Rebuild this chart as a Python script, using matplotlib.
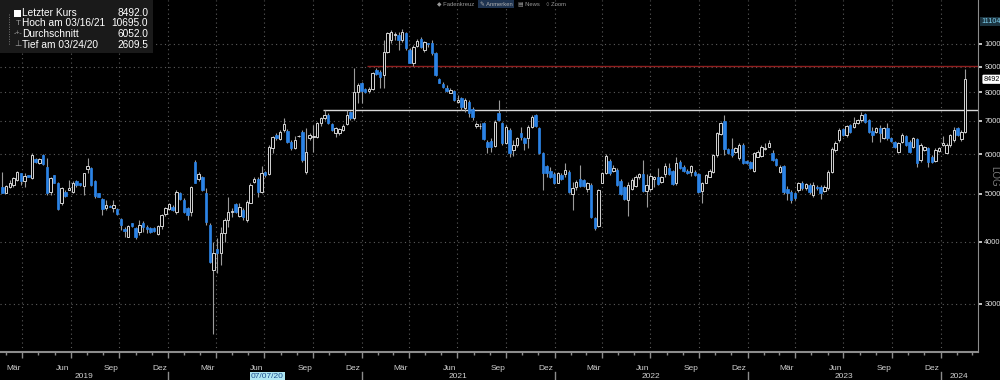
import numpy as np
import pandas as pd
import matplotlib
matplotlib.use("Agg")
import matplotlib.pyplot as plt
import matplotlib.dates as mdates
from matplotlib.patches import Rectangle
from matplotlib.transforms import blended_transform_factory

plt.rcParams["font.family"] = ["Liberation Sans", "DejaVu Sans"]

# weekly OHLC (log scale)
opens = [5164, 5007, 5164, 5204, 5326, 5494, 5310, 5452, 5368, 5861, 5753, 5980, 5648, 5046, 5452, 5260, 4781, 5046, 5085, 5046,
         5310, 5245, 5180, 5597, 5640, 5310, 5007, 4870, 4671, 4715, 4671, 4650, 4446, 4238, 4097, 4358, 4258, 4192, 4371, 4291,
         4258, 4271, 4147, 4304, 4551, 4650, 4707, 4600, 5022, 4855, 4671, 4600, 5798, 5343, 5394, 5008, 4324, 3511, 3865, 3793,
         4161, 4426, 4586, 4759, 4509, 4636, 4426, 4785, 5280, 5343, 5045, 5538, 5477, 6168, 6560, 6432, 6715, 6693, 6360, 6168,
         6520, 6660, 5537, 6462, 6510, 6495, 6925, 7112, 7197, 6903, 6610, 6610, 6715, 6903, 7307, 7088, 8015, 8357, 8105, 8040,
         8105, 8862, 8793, 8661, 9650, 10185, 10422, 10422, 10185, 10504, 9724, 9140, 9900, 10220, 9724, 10040, 10040, 9600, 8490, 8310,
         8143, 7980, 8030, 7655, 7775, 7420, 7655, 7390, 6839, 6830, 6946, 6360, 6390, 6230, 7250, 6946, 6314, 6715, 6120, 6264,
         6614, 6462, 6462, 6800, 7197, 6768, 6027, 5675, 5562, 5477, 5257, 5452, 5477, 5538, 4993, 5160, 5343, 5326, 5100, 5204,
         4460, 4304, 5257, 5510, 5825, 5545, 5580, 5308, 5148, 4855, 5102, 5180, 5394, 5477, 5068, 5102, 5343, 5394, 5280, 5477,
         5625, 5562, 5245, 5797, 5665, 5562, 5538, 5538, 5477, 5068, 5257, 5410, 5538, 5980, 6600, 7010, 6140, 6140, 6073, 5885,
         6264, 5815, 5797, 5562, 5934, 5955, 6150, 6216, 6045, 5860, 5538, 5682, 5120, 5045, 5007, 5085, 5257, 5125, 5204, 4968,
         5164, 5164, 5068, 5125, 5538, 6120, 6411, 6737, 6560, 6871, 6817, 6946, 7032, 7230, 7032, 6693, 6660, 6768, 6462, 6768,
         6462, 6360, 6073, 6360, 6530, 6360, 6196, 6430, 5843, 6120, 6168, 5934, 5825, 6100, 6264, 6045, 6264, 6411, 6768, 6432,
         6660]
highs = [5537, 5204, 5326, 5410, 5563, 5494, 5494, 5452, 6045, 5888, 5888, 6008, 5888, 5410, 5452, 5285, 5148, 5085, 5326, 5310,
         5326, 5260, 5510, 5888, 5665, 5326, 5022, 4892, 4855, 4743, 4855, 4671, 4460, 4278, 4324, 4371, 4278, 4426, 4412, 4318,
         4278, 4291, 4318, 4551, 4707, 4781, 4743, 5085, 5046, 4892, 4707, 5180, 5843, 5528, 5426, 5132, 4365, 4003, 4072, 4290,
         4467, 4930, 4678, 4780, 4780, 4678, 4855, 5245, 5410, 5394, 5682, 5562, 6264, 6530, 6614, 6715, 7088, 6737, 6411, 6540,
         6560, 6715, 6768, 6622, 6871, 6968, 7144, 7364, 7263, 6935, 6817, 6768, 6903, 7364, 7340, 8930, 8333, 8397, 8154, 8204,
         8793, 8930, 8862, 10185, 10586, 10667, 10586, 10586, 10695, 10586, 9800, 9951, 10220, 10325, 10150, 10060, 10185, 9635, 8530, 8397,
         8269, 8154, 8079, 7895, 7835, 7775, 7714, 7460, 6978, 6925, 6968, 6411, 6460, 7032, 7714, 6978, 6871, 6768, 6411, 6510,
         6800, 6510, 6871, 7197, 7220, 6807, 6073, 5709, 5665, 5538, 5538, 5495, 5753, 5580, 5285, 5326, 5709, 5343, 5285, 5245,
         4494, 5102, 5538, 6008, 5860, 5709, 5625, 5343, 5180, 5285, 5375, 5452, 5510, 5843, 5477, 5495, 5426, 5625, 5426, 5753,
         5770, 5580, 5934, 5843, 5709, 5605, 5709, 5580, 5495, 5285, 5477, 5597, 6008, 6660, 6978, 7197, 6168, 6460, 6216, 6314,
         6314, 5843, 5825, 6060, 6120, 6264, 6314, 6411, 6120, 5885, 5709, 5709, 5180, 5085, 5045, 5285, 5302, 5257, 5245, 5285,
         5204, 5204, 5204, 5580, 6205, 6390, 6768, 6775, 6871, 6893, 7140, 7065, 7307, 7263, 7065, 6817, 6800, 6871, 6817, 6946,
         6495, 6390, 6360, 6614, 6560, 6411, 6495, 6460, 6314, 6240, 6195, 5980, 6168, 6216, 6530, 6314, 6590, 6817, 6800, 6715,
         8890]
lows = [5007, 5007, 5125, 5164, 5310, 5204, 5164, 5393, 5343, 5771, 5735, 5709, 4968, 4968, 5245, 4636, 4743, 4930, 5085, 5007,
        5164, 5180, 4968, 5494, 5180, 4892, 4915, 4529, 4636, 4693, 4600, 4529, 4225, 4097, 4085, 4278, 4047, 4128, 4192, 4160,
        4173, 4192, 4134, 4238, 4509, 4636, 4622, 4551, 4855, 4579, 4426, 4509, 5245, 5302, 5062, 4324, 3630, 2609.5, 3463, 3594,
        4003, 4290, 4494, 4565, 4494, 4426, 4392, 4780, 5245, 4930, 5007, 5410, 5452, 6027, 6411, 6411, 6660, 6314, 6120, 6140,
        6495, 5797, 5477, 6411, 6073, 6470, 6839, 7032, 6903, 6682, 6510, 6560, 6682, 6871, 7032, 7032, 7597, 7597, 7968, 7980,
        8079, 8661, 8143, 8143, 9600, 10030, 10185, 9724, 10090, 9724, 9140, 9030, 9875, 9815, 9635, 9875, 9501, 8620, 8333, 8143,
        8015, 7970, 7680, 7597, 7364, 7307, 7144, 7032, 6768, 6737, 6411, 6027, 6073, 6216, 7010, 6264, 6290, 5934, 5955, 6216,
        6411, 6120, 6168, 6768, 6817, 6000, 5085, 5410, 5368, 5228, 5245, 5326, 5410, 5007, 4636, 5085, 5148, 5148, 5045, 4460,
        4225, 4290, 5245, 5477, 5452, 5528, 5180, 4968, 4855, 4510, 5085, 5164, 5360, 5045, 4700, 5068, 5164, 5204, 5250, 5410,
        5452, 5204, 5204, 5605, 5538, 5477, 5426, 5426, 5007, 4795, 5245, 5394, 5510, 5934, 6560, 5980, 6000, 5934, 6027, 5843,
        5735, 5735, 5605, 5538, 5920, 5925, 6120, 6195, 5815, 5682, 5495, 4990, 4855, 4780, 4855, 5045, 5085, 5085, 4990, 4930,
        5085, 4870, 5030, 5085, 5500, 6073, 6360, 6530, 6510, 6622, 6768, 6903, 6978, 6946, 6630, 6360, 6622, 6360, 6430, 6411,
        6360, 6168, 6045, 6330, 6240, 6045, 6168, 5665, 5797, 6090, 5665, 5760, 5790, 6073, 6240, 6027, 6216, 6360, 6530, 6390,
        6630]
closes = [5020, 5180, 5260, 5368, 5537, 5310, 5427, 5410, 5980, 5798, 5861, 5735, 5007, 5368, 5260, 4650, 5125, 4945, 5125, 5245,
          5204, 5204, 5494, 5683, 5204, 4945, 4930, 4650, 4743, 4707, 4743, 4550, 4324, 4212, 4304, 4304, 4097, 4324, 4278, 4238,
          4192, 4212, 4304, 4529, 4671, 4766, 4636, 5046, 4870, 4600, 4529, 5164, 5260, 5477, 5085, 4391, 3648, 3793, 3793, 4161,
          4426, 4600, 4622, 4600, 4700, 4480, 4817, 5204, 5343, 5045, 5495, 5452, 6216, 6492, 6462, 6660, 6903, 6360, 6186, 6411,
          6540, 5843, 6073, 6560, 6540, 6925, 7112, 7197, 6925, 6715, 6768, 6737, 6839, 7197, 7088, 8015, 8269, 8052, 8015, 8105,
          8755, 8721, 8595, 9650, 10504, 10586, 10460, 10185, 10586, 9800, 9168, 9875, 10150, 9850, 10100, 9990, 9600, 8661, 8357, 8180,
          8050, 8079, 7714, 7714, 7460, 7714, 7250, 7120, 6903, 6850, 6432, 6196, 6196, 6978, 7032, 6335, 6817, 6045, 6264, 6462,
          6490, 6330, 6817, 7144, 6839, 6027, 5510, 5495, 5410, 5257, 5495, 5343, 5580, 5045, 5132, 5285, 5180, 5180, 5245, 4484,
          4258, 5085, 5510, 5955, 5510, 5625, 5204, 4993, 4870, 5204, 5326, 5394, 5477, 5068, 5204, 5426, 5394, 5228, 5394, 5682,
          5477, 5228, 5753, 5625, 5562, 5510, 5682, 5452, 5045, 5257, 5452, 5562, 5980, 6630, 6946, 6140, 6027, 5980, 6168, 6264,
          5753, 5753, 5625, 6027, 6073, 6216, 6168, 6314, 5843, 5709, 5665, 5045, 5007, 4855, 4890, 5245, 5125, 5228, 5045, 5204,
          5125, 5007, 5164, 5538, 6140, 6314, 6715, 6560, 6839, 6660, 6946, 7032, 7197, 6978, 6660, 6560, 6768, 6630, 6768, 6462,
          6390, 6196, 6314, 6560, 6264, 6073, 6462, 5753, 6264, 6195, 5797, 5797, 6120, 6168, 6314, 6264, 6560, 6715, 6560, 6660,
          8492]

dates = pd.date_range("2019-02-22", periods=len(closes), freq="7D")

y_ticks = [3000, 4000, 5000, 6000, 7000, 8000, 9000, 10000]
month_names = {3: "Mär", 6: "Jun", 9: "Sep", 12: "Dez"}
years = [2019, 2020, 2021, 2022, 2023, 2024]

last_price = 8492.0
high_price = 10695.0
avg_price = 6052.0
low_price = 2609.5
top_value = 11104
red_level = 9030
white_level = 7350

# ---- figure
fig = plt.figure(figsize=(10, 3.8), dpi=100, facecolor="black")
ax = fig.add_axes([0, 28 / 380, 0.978, 352 / 380])
ax.set_facecolor("black")

o = np.array(opens, float)
h = np.array(highs, float)
l = np.array(lows, float)
c = np.array(closes, float)
x = mdates.date2num(dates)
up = c >= o

blue = "#2b83e6"
ax.vlines(x, np.minimum(l, np.minimum(o, c)), np.maximum(h, np.maximum(o, c)),
          color="#9c9c9c", lw=0.8, zorder=3)
body_lo = np.minimum(o, c)
body_hi = np.maximum(o, c)
ax.bar(x[up], body_hi[up] - body_lo[up], bottom=body_lo[up], width=4.6,
       facecolor="black", edgecolor="#d4d4d4", linewidth=0.7, zorder=4)
ax.bar(x[~up], body_hi[~up] - body_lo[~up], bottom=body_lo[~up], width=4.6,
       facecolor=blue, edgecolor=blue, linewidth=0.5, zorder=4)

ax.set_yscale("log")
ax.set_ylim(2402, 12258)
ax.set_xlim(mdates.date2num(pd.Timestamp("2019-02-17 12:00")),
            mdates.date2num(pd.Timestamp("2024-03-11 12:00")))

# reference lines
ax.hlines(red_level, mdates.date2num(pd.Timestamp("2021-01-12")), ax.get_xlim()[1],
          color="#8e1f1f", lw=1.0, zorder=2)
ax.hlines(white_level, mdates.date2num(pd.Timestamp("2020-10-21")), ax.get_xlim()[1],
          color="#d8d8d8", lw=1.0, zorder=2)

# grid
for v in y_ticks:
    ax.axhline(v, color="#5c5c5c", lw=0.8, ls=(0, (1, 3)), zorder=1)
quarters = pd.date_range("2019-04-01", "2024-01-01", freq="QS")
for q in quarters:
    ax.axvline(mdates.date2num(q), color="#5c5c5c", lw=0.8, ls=(0, (1, 3)), zorder=1)

# spines / axes
for s in ["top", "left"]:
    ax.spines[s].set_visible(False)
ax.spines["right"].set_color("#8c8c8c")
ax.spines["bottom"].set_color("#8c8c8c")
ax.spines["bottom"].set_linewidth(1.5)
ax.yaxis.tick_right()
ax.yaxis.set_minor_locator(plt.NullLocator())
ax.set_yticks(y_ticks)
ax.set_yticklabels([str(v) for v in y_ticks])
ax.tick_params(axis="y", colors="#e6e6e6", labelsize=5.3, length=3, width=1.2, pad=1.5)

months = pd.date_range("2019-03-01", "2024-03-01", freq="MS")
ax.set_xticks(mdates.date2num(quarters))
ax.set_xticks(mdates.date2num(months), minor=True)
ax.set_xticklabels([])
ax.tick_params(axis="x", which="major", colors="#8c8c8c", length=4, width=1)
ax.tick_params(axis="x", which="minor", colors="#8c8c8c", length=2, width=1)

# month / year labels
tr = blended_transform_factory(ax.transData, fig.transFigure)
for m in months:
    if m.month in month_names and m < pd.Timestamp("2024-01-01"):
        ax.text(mdates.date2num(m + pd.Timedelta(days=15)), 1 - 369 / 380, month_names[m.month],
                transform=tr, color="#d0d0d0", fontsize=6, ha="center", va="center")
for yr in years:
    if yr == 2020:
        continue
    start = max(pd.Timestamp(f"{yr}-01-01"), pd.Timestamp("2019-02-17"))
    end = min(pd.Timestamp(f"{yr + 1}-01-01"), pd.Timestamp("2024-03-11"))
    mid = start + (end - start) / 2
    ax.text(mdates.date2num(mid), 1 - 377 / 380, str(yr), transform=tr,
            color="#d0d0d0", fontsize=6, ha="center", va="center")
    if yr > 2019:
        ax.plot([mdates.date2num(start)] * 2, [1 - 372 / 380, 0], transform=tr,
                color="#8c8c8c", lw=1, clip_on=False)
ax.plot([mdates.date2num(pd.Timestamp("2020-01-01"))] * 2, [1 - 372 / 380, 0], transform=tr,
        color="#8c8c8c", lw=1, clip_on=False)
ax.text(mdates.date2num(pd.Timestamp("2020-07-07")), 1 - 377 / 380, "07/07/20", transform=tr,
        color="#1d4f8f", fontsize=6, ha="center", va="center",
        bbox=dict(boxstyle="square,pad=0.15", fc="#aee6f2", ec="none"))


def px(xp, yp):
    return xp / 1000, 1 - yp / 380


# right-side tags
ytr = blended_transform_factory(fig.transFigure, ax.transData)
ax.text(0.9815, top_value, str(top_value), transform=ytr, fontsize=5.2, color="#7fd3f2",
        ha="left", va="center", bbox=dict(boxstyle="square,pad=0.15", fc="#1c3440", ec="none"))
ax.text(0.9835, last_price, f"{last_price:.0f}", transform=ytr, fontsize=5.2, color="black",
        ha="left", va="center", bbox=dict(boxstyle="round,pad=0.15", fc="white", ec="none"))
fig.text(*px(994, 176), "LOG", color="#7a7a7a", fontsize=7, rotation=270, ha="center", va="center")

# legend box
fig.patches.append(Rectangle(px(0, 53), 0.153, 53 / 380, transform=fig.transFigure,
                             fc="#1a1a1a", ec="none", zorder=5))
rows = [("Letzter Kurs", f"{last_price:.1f}"),
        ("Hoch am 03/16/21", f"{high_price:.1f}"),
        ("Durchschnitt", f"{avg_price:.1f}"),
        ("Tief am 03/24/20", f"{low_price:.1f}")]
row_y = [12.5, 23.5, 34, 45]
for (lab, val), yy in zip(rows, row_y):
    fig.text(*px(22, yy), lab, color="white", fontsize=7.3, ha="left", va="center", zorder=6)
    fig.text(*px(148, yy), val, color="white", fontsize=7.3, ha="right", va="center", zorder=6)
fig.patches.append(Rectangle(px(14, 16.5), 0.007, 7 / 380, transform=fig.transFigure,
                             fc="white", ec="none", zorder=6))
fig.text(*px(18, 23.5), "T", color="#9a9a9a", fontsize=6, ha="center", va="center", zorder=6)
fig.text(*px(18, 34), "-+-", color="#9a9a9a", fontsize=5, ha="center", va="center", zorder=6)
fig.text(*px(18, 45), "⊥", color="#9a9a9a", fontsize=6, ha="center", va="center", zorder=6)
fig.lines.append(plt.Line2D([0.009, 0.009], [1 - 14 / 380, 1 - 45 / 380], transform=fig.transFigure,
                            color="#777777", lw=0.7, ls=(0, (1, 1.5)), zorder=6))

# toolbar
fig.text(*px(456, 4), "◆ Fadenkreuz", color="#9a9a9a", fontsize=4.2, ha="center", va="center")
fig.text(*px(496, 4), "✎ Anmerken", color="#b0b0b0", fontsize=4.2, ha="center", va="center",
         bbox=dict(boxstyle="square,pad=0.3", fc="#1e3350", ec="none"))
fig.text(*px(529, 4), "▤ News", color="#9a9a9a", fontsize=4.2, ha="center", va="center")
fig.text(*px(556, 4), "○ Zoom", color="#9a9a9a", fontsize=4.2, ha="center", va="center")

fig.savefig("out.png", dpi=100, facecolor="black")
